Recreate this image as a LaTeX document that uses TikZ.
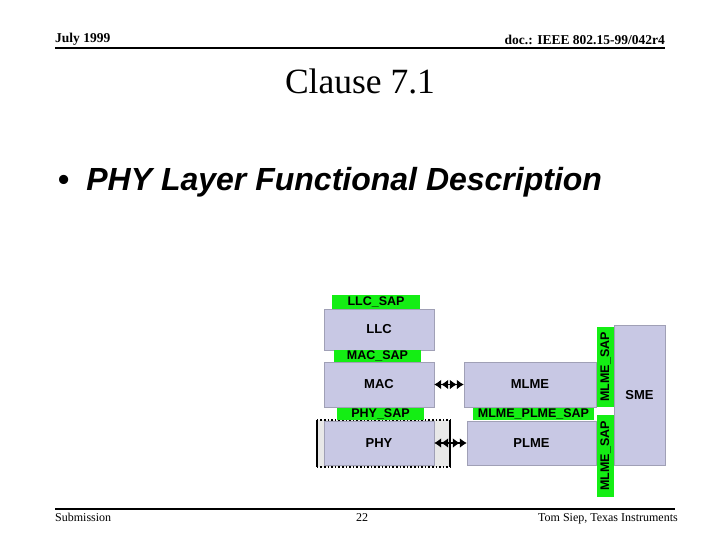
\documentclass[tikz,border=0pt]{standalone}
\usepackage{fontspec}
\setmainfont{Liberation Serif}
\setsansfont{Liberation Sans}
\usepackage{xcolor}
\usetikzlibrary{arrows.meta,positioning}
\definecolor{lavender}{RGB}{200,200,228}
\definecolor{lavedge}{RGB}{160,160,182}
\definecolor{sapgreen}{RGB}{20,238,20}
\definecolor{framegray}{RGB}{232,232,232}
\tikzset{
  layer/.style={rectangle, draw=lavedge, fill=lavender, inner sep=0pt,
    font=\sffamily\bfseries\fontsize{13}{15}\selectfont},
  sap/.style={rectangle, fill=sapgreen, inner sep=0pt,
    font=\sffamily\bfseries\fontsize{12.5}{14}\selectfont},
  hdr/.style={font=\rmfamily\bfseries\fontsize{13.5}{15}\selectfont, inner sep=0pt},
  ftr/.style={font=\rmfamily\fontsize{12}{14}\selectfont, inner sep=0pt},
  link/.style={{Latex[length=7pt,width=10pt,sep=0pt]Latex[length=7pt,width=10pt]}-{Latex[length=7pt,width=10pt,sep=0pt]Latex[length=7pt,width=10pt]}, line width=1.8pt},
}
\begin{document}
\begin{tikzpicture}[x=1pt,y=-1pt]
  \useasboundingbox[fill=white] (0,0) rectangle (720,540);
  % header and footer
  \node[hdr, anchor=base west] (date) at (55,43) {July 1999};
  \node[hdr, anchor=base east] (doc) at (665,45) {doc.: IEEE 802.15-99/042r4};
  \draw[line width=2pt] (55,48) -- (665,48);
  \node[font=\rmfamily\fontsize{35.5}{40}\selectfont, inner sep=0pt, anchor=base] (title) at (360,94) {Clause 7.1};
  \node[font=\sffamily\bfseries\itshape\fontsize{32}{36}\selectfont, inner sep=0pt, anchor=base west] (bullet) at (58,191)
    {\upshape\textbullet\hspace{17pt}\itshape PHY Layer Functional Description};
  \draw[line width=2pt] (55,509) -- (675,509);
  \node[ftr, anchor=base west] (sub) at (55,521) {Submission};
  \node[ftr, anchor=base] (page) at (362,521) {22};
  \node[ftr, anchor=base east] (author) at (678,521) {Tom Siep, Texas Instruments};
  % PHY frame
  \node[fill=framegray, minimum width=133pt, minimum height=47pt, inner sep=0pt] (frame) at (383.5,443.5) {};
  \draw[line width=1.6pt, dotted] (frame.north west) -- (frame.north east);
  \draw[line width=1.6pt, dotted] (frame.south west) -- (frame.south east);
  \draw[line width=1.5pt] (frame.north west) -- (frame.south west);
  \draw[line width=1.5pt] (frame.north east) -- (frame.south east);
  % left stack
  \node[sap, minimum width=88pt, minimum height=14pt] (llcsap) at (376,302) {LLC\_SAP};
  \node[layer, minimum width=110pt, minimum height=41pt] (llc) at (379,329.5) {LLC};
  \node[sap, minimum width=87pt, minimum height=12pt] (macsap) at (377.5,356) {MAC\_SAP};
  \node[layer, minimum width=110pt, minimum height=45pt] (mac) at (379,384.5) {MAC};
  \node[sap, minimum width=87pt, minimum height=12pt] (physap) at (380.5,414) {PHY\_SAP};
  \node[layer, minimum width=110pt, minimum height=44pt] (phy) at (379,443) {PHY};
  % management side
  \node[layer, minimum width=132pt, minimum height=45pt] (mlme) at (530,384.5) {MLME};
  \node[sap, minimum width=121pt, minimum height=12pt] (mlmeplmesap) at (533.5,414) {MLME\_PLME\_SAP};
  \node[layer, minimum width=129pt, minimum height=44pt] (plme) at (531.5,443) {PLME};
  \node[layer, minimum width=51pt, minimum height=140pt] (sme) at (639.5,395) {SME};
  \node[sap, rotate=90, minimum width=80pt, minimum height=17pt] (mlmesapa) at (605.5,367) {MLME\_SAP};
  \node[sap, rotate=90, minimum width=82pt, minimum height=17pt] (mlmesapb) at (605.5,456) {MLME\_SAP};
  % links
  \draw[link] (mac.east) -- (mac.east -| mlme.west);
  \draw[link] (phy.east) -- (phy.east -| plme.west);
\end{tikzpicture}
\end{document}
